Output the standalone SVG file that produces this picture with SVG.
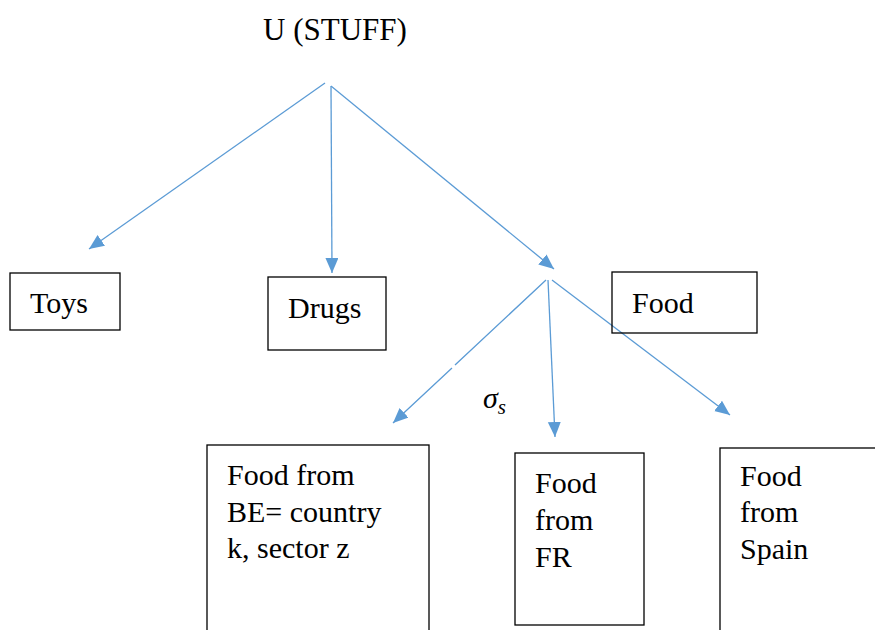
<svg xmlns="http://www.w3.org/2000/svg" width="875" height="630" viewBox="0 0 875 630">
<style>
.box{fill:#fff;stroke:#000;stroke-width:1.3}
.t{font-family:"Liberation Serif","Times New Roman",serif;font-size:30px;fill:#000}
.c{fill:none;stroke:#5B9BD5;stroke-width:1.3;marker-end:url(#ah)}
</style>
<defs>
<marker id="ah" markerUnits="userSpaceOnUse" markerWidth="16" markerHeight="14" refX="15" refY="6.5" orient="auto">
<path d="M0,0 L15,6.5 L0,13 z" fill="#5B9BD5"/>
</marker>
</defs>
<rect width="875" height="630" fill="#fff"/>
<g id="title"><text class="t" x="263" y="40" style="font-size:31px">U (STUFF)</text></g>
<g id="connectors">
<path class="c" d="M325,83 L89,249"/>
<path class="c" d="M331,86 L332,273"/>
<path class="c" d="M331,86 L554,269"/>
<path class="c" d="M546,280 L455,365 M452,368 L393,423"/>
<path class="c" d="M548,280 L555,437"/>
<path class="c" d="M552,280 L730,415"/>
</g>
<g id="toys"><rect class="box" x="10" y="273" width="110" height="57"/><text class="t" x="30" y="313">Toys</text></g>
<g id="drugs"><rect class="box" x="268" y="277" width="118" height="73"/><text class="t" x="288" y="318">Drugs</text></g>
<g id="food"><rect class="box" x="612" y="272" width="145" height="61" style="fill:none"/><text class="t" x="632" y="313">Food</text></g>
<g id="sigma"><text class="t" x="483" y="408" font-style="italic">σ<tspan font-size="21" dy="6">s</tspan></text></g>
<g id="food-be"><rect class="box" x="207" y="445" width="222" height="195"/>
<text class="t" x="227" y="485">Food from</text><text class="t" x="227" y="522">BE= country</text><text class="t" x="227" y="558">k, sector z</text></g>
<g id="food-fr"><rect class="box" x="515" y="453" width="129" height="172"/>
<text class="t" x="535" y="493">Food</text><text class="t" x="535" y="530">from</text><text class="t" x="535" y="567">FR</text></g>
<g id="food-spain"><rect class="box" x="720" y="448" width="170" height="192"/>
<text class="t" x="740" y="486">Food</text><text class="t" x="740" y="522">from</text><text class="t" x="740" y="559">Spain</text></g>
</svg>
